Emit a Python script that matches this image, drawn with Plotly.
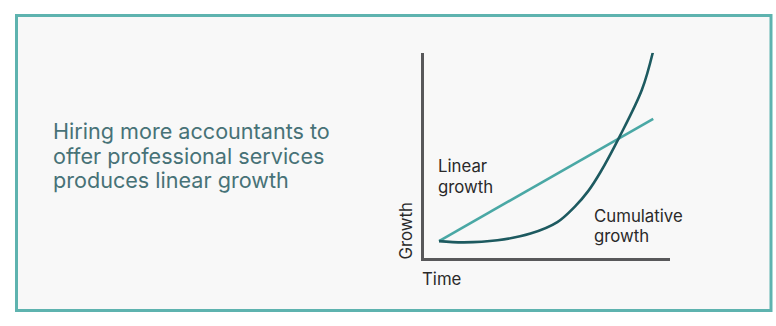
import plotly.graph_objects as go

W, H = 776, 326

# ---- data (arbitrary units: time 0-10, growth 0-10) ----
linear_time = [0.63, 9.32]
linear_growth = [0.80, 6.77]

cumulative_time = [0.63, 1.63, 3.00, 4.34, 5.43, 6.16, 6.68, 7.17, 7.95, 8.86, 9.30]
cumulative_growth = [0.80, 0.74, 0.84, 1.17, 1.73, 2.51, 3.24, 4.15, 5.89, 8.19, 10.0]

title_lines = ["Hiring more accountants to", "offer professional services", "produces linear growth"]
x_label = "Time"
y_label = "Growth"
linear_label = ["Linear", "growth"]
cumulative_label = ["Cumulative", "growth"]

# ---- helpers: pixel -> paper ----
def px(x):
    return x / W

def py(y):
    return 1 - y / H

FONT = "Inter"
TITLE_SIZE = 21.6
LABEL_SIZE = 16.8

fig = go.Figure()
fig.add_trace(go.Scatter(
    x=linear_time, y=linear_growth, mode="lines",
    line=dict(color="#4aa8a5", width=2.6), hoverinfo="skip", showlegend=False))
fig.add_trace(go.Scatter(
    x=cumulative_time, y=cumulative_growth, mode="lines",
    line=dict(color="#1d5a60", width=2.6, shape="spline", smoothing=1.0),
    hoverinfo="skip", showlegend=False))

fig.update_layout(
    width=W, height=H, autosize=False,
    margin=dict(l=0, r=0, t=0, b=0),
    paper_bgcolor="white", plot_bgcolor="rgba(0,0,0,0)",
    xaxis=dict(domain=[px(423.5), px(670)], range=[0, 10], showgrid=False, zeroline=False,
               showticklabels=False, ticks="", showline=True, linewidth=3, linecolor="#58585a",
               fixedrange=True),
    yaxis=dict(domain=[py(257.5), py(52.7)], range=[0, 10], showgrid=False, zeroline=False,
               showticklabels=False, ticks="", showline=True, linewidth=3, linecolor="#58585a",
               fixedrange=True),
    shapes=[dict(type="rect", xref="paper", yref="paper",
                 x0=px(16.5), x1=px(771), y0=py(310.5), y1=py(15.5),
                 line=dict(color="#5eb3af", width=3), fillcolor="#f8f8f8", layer="below")],
)


def text_line(txt, x_left, baseline, size, color):
    return dict(text=txt, x=px(x_left), y=py(baseline - 0.98 * size), xref="paper", yref="paper",
                xanchor="left", yanchor="top", align="left", showarrow=False,
                font=dict(family=FONT, size=size, color=color))


ann = []
for line, base in zip(title_lines, [136.7, 161.7, 186.2]):
    ann.append(text_line(line, 50.5, base, TITLE_SIZE, "#477277"))
for line, base in zip(linear_label, [170.5, 191.3]):
    ann.append(text_line(line, 436, base, LABEL_SIZE, "#2a2a2a"))
for line, base in zip(cumulative_label, [220.2, 240.2]):
    ann.append(text_line(line, 591.5, base, LABEL_SIZE, "#2a2a2a"))
ann.append(text_line(x_label, 420, 283.3, LABEL_SIZE, "#2a2a2a"))
ann.append(dict(text=y_label, x=px(405.5), y=py(231), xref="paper", yref="paper",
                xanchor="center", yanchor="middle", textangle=-90, showarrow=False,
                font=dict(family=FONT, size=LABEL_SIZE, color="#2a2a2a")))
fig.update_layout(annotations=ann)

fig.write_html("out.html", config=dict(displayModeBar=False))
